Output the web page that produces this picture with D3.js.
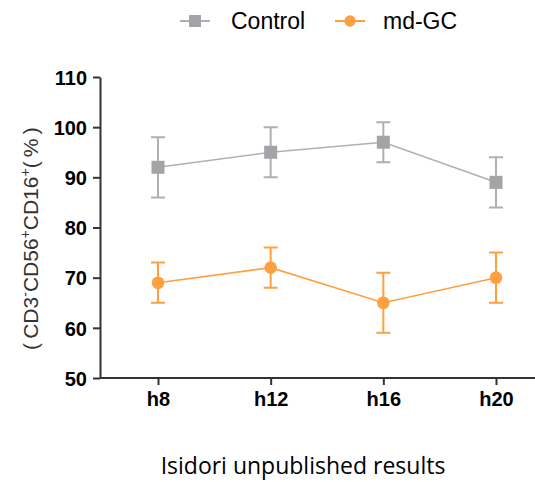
<!DOCTYPE html>
<html>
<head>
<meta charset="utf-8">
<script src="https://cdn.jsdelivr.net/npm/d3@7"></script>
<style>
  body { margin: 0; background: #fff; }
  svg { display: block; }
</style>
</head>
<body>
<div id="chart"></div>
<script>
// chart values
const timepoints = ["h8", "h12", "h16", "h20"];
const controlMean = [92, 95, 97, 89];
const controlLow = [86, 90, 93, 84];
const controlHigh = [98, 100, 101, 94];
const mdgcMean = [69, 72, 65, 70];
const mdgcLow = [65, 68, 59, 65];
const mdgcHigh = [73, 76, 71, 75];
const yTicks = [50, 60, 70, 80, 90, 100, 110];

const W = 535, H = 482;
const margin = {top: 77, right: 0, bottom: 104, left: 100};
const grey = "#a3a3a8", greyLine = "#b0b0b0";
const orange = "#ffa040";

const svg = d3.select("#chart").append("svg")
    .attr("width", W)
    .attr("height", H);

const y = d3.scaleLinear()
    .domain([50, 110])
    .range([H - margin.bottom, margin.top]);
const x = d3.scalePoint()
    .domain(timepoints)
    .range([158, 496]);

// axes
const yAxis = svg.append("g")
    .attr("transform", `translate(${margin.left},0)`)
    .call(d3.axisLeft(y).tickValues(yTicks).tickSize(7).tickSizeOuter(0));
const xAxis = svg.append("g")
    .attr("transform", `translate(0,${y(50)})`)
    .call(d3.axisBottom(x).tickSize(7).tickSizeOuter(0));
xAxis.select(".domain").attr("d", `M${margin.left},0H${W}`);

[yAxis, xAxis].forEach(g => {
    g.selectAll(".domain, line").attr("stroke", "#333").attr("stroke-width", 2);
    g.selectAll("text")
        .attr("fill", "#000")
        .style("font-family", "Arial, 'Liberation Sans', sans-serif")
        .style("font-weight", "bold")
        .style("font-size", "20px");
});
yAxis.selectAll("text").attr("x", -13).attr("dy", "0.36em");
xAxis.selectAll("text").attr("y", 14);

// y axis title with super-scripts
const yTitle = svg.append("text")
    .attr("transform", `translate(38,350) rotate(-90)`)
    .attr("text-anchor", "start")
    .attr("fill", "#333")
    .style("font-family", "Arial, 'Liberation Sans', sans-serif")
    .style("font-size", "21px");
yTitle.append("tspan").text("(\u2009CD3");
yTitle.append("tspan").attr("baseline-shift", "super").style("font-size", "14px").text("-");
yTitle.append("tspan").text("CD56");
yTitle.append("tspan").attr("baseline-shift", "super").style("font-size", "14px").text("+");
yTitle.append("tspan").text("CD16");
yTitle.append("tspan").attr("baseline-shift", "super").style("font-size", "14px").text("+");
yTitle.append("tspan").text("(\u2009%\u2009)");

function drawSeries(mean, low, high, lineColor, color, shape) {
    const g = svg.append("g");
    const cap = 7;
    timepoints.forEach((t, i) => {
        g.append("path")
            .attr("d", `M${x(t) - cap},${y(high[i])}H${x(t) + cap}M${x(t)},${y(high[i])}V${y(low[i])}M${x(t) - cap},${y(low[i])}H${x(t) + cap}`)
            .attr("stroke", lineColor)
            .attr("stroke-width", 2)
            .attr("fill", "none");
    });
    g.append("path")
        .datum(mean)
        .attr("d", d3.line().x((d, i) => x(timepoints[i])).y(d => y(d)))
        .attr("stroke", lineColor)
        .attr("stroke-width", 1.6)
        .attr("fill", "none");
    g.selectAll(".pt")
        .data(mean)
        .join("path")
        .attr("transform", (d, i) => `translate(${x(timepoints[i])},${y(d)})`)
        .attr("d", d3.symbol().type(shape).size(shape === d3.symbolSquare ? 169 : 125))
        .attr("fill", color);
}

drawSeries(controlMean, controlLow, controlHigh, greyLine, grey, d3.symbolSquare);
drawSeries(mdgcMean, mdgcLow, mdgcHigh, orange, orange, d3.symbolCircle);

// legend
const legend = [
    {name: "Control", line: greyLine, color: grey, shape: d3.symbolSquare, x: 180, tx: 231},
    {name: "md-GC", line: orange, color: orange, shape: d3.symbolCircle, x: 335, tx: 383}
];
legend.forEach(l => {
    svg.append("line")
        .attr("x1", l.x).attr("x2", l.x + 30)
        .attr("y1", 21).attr("y2", 21)
        .attr("stroke", l.line).attr("stroke-width", 2);
    svg.append("path")
        .attr("transform", `translate(${l.x + 15},21)`)
        .attr("d", d3.symbol().type(l.shape).size(l.shape === d3.symbolSquare ? 144 : 100))
        .attr("fill", l.color);
    svg.append("text")
        .attr("x", l.tx).attr("y", 29)
        .attr("fill", "#000")
        .style("font-family", "Arial, 'Liberation Sans', sans-serif")
        .style("font-size", "23px")
        .text(l.name);
});

// footer note
svg.append("text")
    .attr("x", 303).attr("y", 474)
    .attr("text-anchor", "middle")
    .attr("fill", "#000")
    .style("font-family", "'Open Sans', 'Noto Sans', sans-serif")
    .style("font-size", "23px")
    .text("Isidori unpublished results");
</script>
</body>
</html>
